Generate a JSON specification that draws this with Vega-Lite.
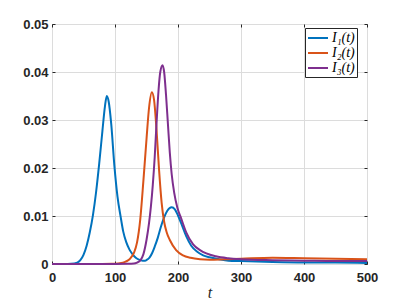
{
  "$schema": "https://vega.github.io/schema/vega-lite/v6.json",
  "width": 315,
  "height": 240,
  "autosize": {"type": "none"},
  "padding": {"left": 52, "top": 24, "right": 38, "bottom": 40},
  "background": "white",
  "config": {
    "view": {"stroke": "#262626", "strokeWidth": 1},
    "axis": {
      "domain": false,
      "labelFont": "Liberation Sans",
      "labelFontWeight": "bold",
      "labelFontSize": 13,
      "labelColor": "#262626",
      "tickColor": "#262626",
      "tickSize": -3,
      "tickWidth": 1,
      "gridColor": "#dcdcdc",
      "gridWidth": 1
    }
  },
  "data": {"values": [
    {"t":0,"v":0,"s":"I₁(t)"},{"t":20,"v":0,"s":"I₁(t)"},{"t":30,"v":0.00005,"s":"I₁(t)"},{"t":40,"v":0.0003,"s":"I₁(t)"},{"t":45,"v":0.0008,"s":"I₁(t)"},{"t":50,"v":0.0019,"s":"I₁(t)"},{"t":55,"v":0.0038,"s":"I₁(t)"},{"t":60,"v":0.0066,"s":"I₁(t)"},{"t":65,"v":0.0102,"s":"I₁(t)"},{"t":70,"v":0.015,"s":"I₁(t)"},{"t":75,"v":0.021,"s":"I₁(t)"},{"t":80,"v":0.0277,"s":"I₁(t)"},{"t":84,"v":0.0328,"s":"I₁(t)"},{"t":87,"v":0.035,"s":"I₁(t)"},{"t":90,"v":0.0338,"s":"I₁(t)"},{"t":94,"v":0.0292,"s":"I₁(t)"},{"t":99,"v":0.0205,"s":"I₁(t)"},{"t":104,"v":0.014,"s":"I₁(t)"},{"t":109,"v":0.0098,"s":"I₁(t)"},{"t":113,"v":0.0068,"s":"I₁(t)"},{"t":118,"v":0.0045,"s":"I₁(t)"},{"t":123,"v":0.003,"s":"I₁(t)"},{"t":128,"v":0.002,"s":"I₁(t)"},{"t":133,"v":0.0013,"s":"I₁(t)"},{"t":138,"v":0.0009,"s":"I₁(t)"},{"t":144,"v":0.0007,"s":"I₁(t)"},{"t":148,"v":0.0007,"s":"I₁(t)"},{"t":152,"v":0.001,"s":"I₁(t)"},{"t":155,"v":0.0014,"s":"I₁(t)"},{"t":159,"v":0.0023,"s":"I₁(t)"},{"t":163,"v":0.0036,"s":"I₁(t)"},{"t":168,"v":0.0055,"s":"I₁(t)"},{"t":173,"v":0.0078,"s":"I₁(t)"},{"t":178,"v":0.0097,"s":"I₁(t)"},{"t":183,"v":0.0111,"s":"I₁(t)"},{"t":190,"v":0.0118,"s":"I₁(t)"},{"t":195,"v":0.0114,"s":"I₁(t)"},{"t":200,"v":0.0101,"s":"I₁(t)"},{"t":205,"v":0.0085,"s":"I₁(t)"},{"t":213,"v":0.0058,"s":"I₁(t)"},{"t":221,"v":0.0038,"s":"I₁(t)"},{"t":230,"v":0.0026,"s":"I₁(t)"},{"t":240,"v":0.0018,"s":"I₁(t)"},{"t":250,"v":0.0014,"s":"I₁(t)"},{"t":265,"v":0.001,"s":"I₁(t)"},{"t":280,"v":0.0007,"s":"I₁(t)"},{"t":300,"v":0.0006,"s":"I₁(t)"},{"t":350,"v":0.0004,"s":"I₁(t)"},{"t":400,"v":0.0003,"s":"I₁(t)"},{"t":450,"v":0.0003,"s":"I₁(t)"},{"t":500,"v":0.0002,"s":"I₁(t)"},
    {"t":0,"v":0,"s":"I₂(t)"},{"t":80,"v":0,"s":"I₂(t)"},{"t":95,"v":0.00003,"s":"I₂(t)"},{"t":105,"v":0.0001,"s":"I₂(t)"},{"t":110,"v":0.0002,"s":"I₂(t)"},{"t":115,"v":0.0004,"s":"I₂(t)"},{"t":120,"v":0.0007,"s":"I₂(t)"},{"t":125,"v":0.0013,"s":"I₂(t)"},{"t":130,"v":0.0023,"s":"I₂(t)"},{"t":135,"v":0.0045,"s":"I₂(t)"},{"t":140,"v":0.0092,"s":"I₂(t)"},{"t":145,"v":0.0172,"s":"I₂(t)"},{"t":150,"v":0.026,"s":"I₂(t)"},{"t":154,"v":0.0325,"s":"I₂(t)"},{"t":158.5,"v":0.0358,"s":"I₂(t)"},{"t":162,"v":0.0342,"s":"I₂(t)"},{"t":166,"v":0.0278,"s":"I₂(t)"},{"t":170,"v":0.0195,"s":"I₂(t)"},{"t":174,"v":0.0128,"s":"I₂(t)"},{"t":178,"v":0.0088,"s":"I₂(t)"},{"t":182,"v":0.0066,"s":"I₂(t)"},{"t":187,"v":0.005,"s":"I₂(t)"},{"t":197,"v":0.0029,"s":"I₂(t)"},{"t":208,"v":0.0018,"s":"I₂(t)"},{"t":220,"v":0.0013,"s":"I₂(t)"},{"t":235,"v":0.001,"s":"I₂(t)"},{"t":250,"v":0.0009,"s":"I₂(t)"},{"t":275,"v":0.001,"s":"I₂(t)"},{"t":300,"v":0.0011,"s":"I₂(t)"},{"t":350,"v":0.0013,"s":"I₂(t)"},{"t":400,"v":0.0012,"s":"I₂(t)"},{"t":450,"v":0.0011,"s":"I₂(t)"},{"t":500,"v":0.001,"s":"I₂(t)"},
    {"t":0,"v":0,"s":"I₃(t)"},{"t":100,"v":0,"s":"I₃(t)"},{"t":120,"v":0.00003,"s":"I₃(t)"},{"t":130,"v":0.0001,"s":"I₃(t)"},{"t":135,"v":0.0003,"s":"I₃(t)"},{"t":140,"v":0.0007,"s":"I₃(t)"},{"t":145,"v":0.002,"s":"I₃(t)"},{"t":150,"v":0.005,"s":"I₃(t)"},{"t":154,"v":0.0085,"s":"I₃(t)"},{"t":157,"v":0.012,"s":"I₃(t)"},{"t":160,"v":0.0165,"s":"I₃(t)"},{"t":163,"v":0.0222,"s":"I₃(t)"},{"t":166,"v":0.0295,"s":"I₃(t)"},{"t":169,"v":0.036,"s":"I₃(t)"},{"t":172,"v":0.0401,"s":"I₃(t)"},{"t":175.5,"v":0.0414,"s":"I₃(t)"},{"t":178,"v":0.04,"s":"I₃(t)"},{"t":181,"v":0.0352,"s":"I₃(t)"},{"t":184,"v":0.0292,"s":"I₃(t)"},{"t":187,"v":0.0232,"s":"I₃(t)"},{"t":190,"v":0.0187,"s":"I₃(t)"},{"t":194,"v":0.0148,"s":"I₃(t)"},{"t":199,"v":0.0117,"s":"I₃(t)"},{"t":205,"v":0.0095,"s":"I₃(t)"},{"t":213,"v":0.0066,"s":"I₃(t)"},{"t":224,"v":0.0041,"s":"I₃(t)"},{"t":235,"v":0.0029,"s":"I₃(t)"},{"t":245,"v":0.0022,"s":"I₃(t)"},{"t":260,"v":0.0016,"s":"I₃(t)"},{"t":280,"v":0.0012,"s":"I₃(t)"},{"t":300,"v":0.001,"s":"I₃(t)"},{"t":350,"v":0.0008,"s":"I₃(t)"},{"t":400,"v":0.0007,"s":"I₃(t)"},{"t":450,"v":0.0006,"s":"I₃(t)"},{"t":500,"v":0.0006,"s":"I₃(t)"}
  ]},
  "layer": [
    {
      "mark": {"type": "line", "strokeWidth": 2, "interpolate": "monotone"},
      "encoding": {
        "x": {"field": "t", "type": "quantitative",
          "scale": {"domain": [0, 500], "nice": false},
          "axis": {"orient": "bottom", "values": [0, 100, 200, 300, 400, 500], "labelPadding": 10, "labelFlush": false,
            "title": "t", "titleFont": "Liberation Serif", "titleFontStyle": "italic", "titleFontWeight": "normal", "titleFontSize": 16, "titleColor": "#262626", "titlePadding": 0}},
        "y": {"field": "v", "type": "quantitative",
          "scale": {"domain": [0, 0.05], "nice": false},
          "axis": {"orient": "left", "values": [0, 0.01, 0.02, 0.03, 0.04, 0.05], "labelPadding": 7, "labelFlush": false,
            "labelExpr": "datum.value == 0 ? '0' : format(datum.value, '.2f')", "title": null}},
        "color": {"field": "s", "type": "nominal",
          "scale": {"domain": ["I₁(t)", "I₂(t)", "I₃(t)"], "range": ["#0072BD", "#D95319", "#7E2F8E"]},
          "legend": {"title": null, "orient": "none", "legendX": 253, "legendY": 4,
            "symbolType": "M-1,0H1.857", "symbolSize": 196, "symbolStrokeWidth": 2,
            "labelFont": "Liberation Serif", "labelFontStyle": "italic", "labelFontSize": 14, "labelColor": "#000000",
            "labelOffset": 9, "rowPadding": 0, "padding": 2,
            "strokeColor": "#262626", "fillColor": "white", "cornerRadius": 0}}
      }
    },
    {
      "mark": {"type": "line", "strokeOpacity": 0},
      "encoding": {
        "x": {"field": "t", "type": "quantitative",
          "axis": {"orient": "top", "values": [0, 100, 200, 300, 400, 500], "labels": false, "grid": false, "title": null}},
        "y": {"field": "v", "type": "quantitative",
          "axis": {"orient": "right", "values": [0, 0.01, 0.02, 0.03, 0.04, 0.05], "labels": false, "grid": false, "title": null}},
        "color": {"field": "s", "type": "nominal", "legend": null}
      }
    }
  ],
  "resolve": {"axis": {"x": "independent", "y": "independent"}}
}
